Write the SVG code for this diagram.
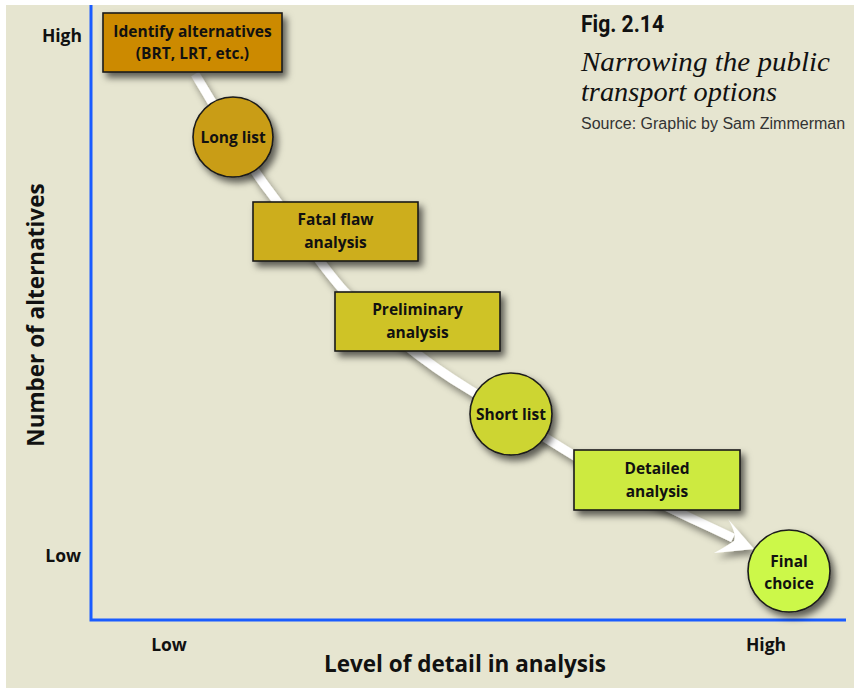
<svg xmlns="http://www.w3.org/2000/svg" width="854" height="688" viewBox="0 0 854 688">
<defs>
<filter id="sh" x="-30%" y="-30%" width="160%" height="160%">
<feDropShadow dx="4" dy="5" stdDeviation="3.5" flood-color="#000" flood-opacity="0.6"/>
</filter>
<filter id="lsh" x="-20%" y="-20%" width="140%" height="140%">
<feDropShadow dx="3" dy="5" stdDeviation="3.5" flood-color="#000" flood-opacity="0.45"/>
</filter>
</defs>
<style>
.node{stroke:#1a1a1a;stroke-width:1.6;filter:url(#sh)}
.lbl{font-family:"Open Sans",Lato,sans-serif;font-weight:700;font-size:15.5px;fill:#111;text-anchor:middle}
.ax{font-family:"Open Sans",Lato,sans-serif;font-weight:700;fill:#111}
.axis{stroke:#1a5cff;stroke-width:3;fill:none}
.ttl{font-family:"Liberation Serif",serif;font-style:italic;font-size:27px;fill:#111}
</style>
<rect x="0" y="0" width="854" height="688" fill="#ffffff"/>
<rect x="6" y="5" width="848" height="683" fill="#e6e5d0"/>

<g id="axes">
<path class="axis" d="M91,5 V620 H846"/>
</g>

<g id="connectors" filter="url(#lsh)">
<path d="M195,74 C220,115 245,160 270,192 C300,232 320,265 345,292 C380,325 420,360 470,390 C520,420 560,450 620,482 C660,505 700,522 733,538" fill="none" stroke="#ffffff" stroke-width="9"/>
<path d="M754,549 L728,519 Q737,534 734,541 Q727,546 714,553 Z" fill="#ffffff"/>
</g>

<g id="n1">
<rect class="node" x="103" y="13" width="179" height="59" fill="#cc8a00"/>
<text class="lbl" x="192.5" y="37">Identify alternatives</text>
<text class="lbl" x="192.5" y="59">(BRT, LRT, etc.)</text>
</g>
<g id="n2">
<circle class="node" cx="233" cy="137" r="40" fill="#c99d12"/>
<text class="lbl" x="233" y="143">Long list</text>
</g>
<g id="n3">
<rect class="node" x="253" y="202" width="165" height="59" fill="#cdae1a"/>
<text class="lbl" x="335.5" y="225">Fatal flaw</text>
<text class="lbl" x="335.5" y="248">analysis</text>
</g>
<g id="n4">
<rect class="node" x="335" y="292" width="165" height="59" fill="#cfc328"/>
<text class="lbl" x="417.5" y="315">Preliminary</text>
<text class="lbl" x="417.5" y="338">analysis</text>
</g>
<g id="n5">
<circle class="node" cx="511" cy="414" r="41" fill="#cdd530"/>
<text class="lbl" x="511" y="420">Short list</text>
</g>
<g id="n6">
<rect class="node" x="574" y="450" width="166" height="60" fill="#cdea40"/>
<text class="lbl" x="657" y="474">Detailed</text>
<text class="lbl" x="657" y="497">analysis</text>
</g>
<g id="n7">
<circle class="node" cx="789" cy="571" r="41" fill="#ccf84a"/>
<text class="lbl" x="789" y="567">Final</text>
<text class="lbl" x="789" y="589">choice</text>
</g>

<g id="labels">
<text class="ax" x="82" y="42" font-size="17.5" text-anchor="end">High</text>
<text class="ax" x="81" y="562" font-size="17.5" text-anchor="end">Low</text>
<text class="ax" x="169" y="651" font-size="17.5" text-anchor="middle">Low</text>
<text class="ax" x="766" y="651" font-size="17.5" text-anchor="middle">High</text>
<text class="ax" x="465" y="672" font-size="22.5" text-anchor="middle">Level of detail in analysis</text>
<text class="ax" transform="translate(44,315) rotate(-90)" font-size="22.5" text-anchor="middle">Number of alternatives</text>
</g>

<g id="title">
<text x="581" y="32" font-family="Roboto,'Liberation Sans',sans-serif" font-weight="700" font-size="24" fill="#111" textLength="83" lengthAdjust="spacingAndGlyphs">Fig. 2.14</text>
<text class="ttl" x="581" y="71" textLength="249" lengthAdjust="spacingAndGlyphs">Narrowing the public</text>
<text class="ttl" x="581" y="101" textLength="196" lengthAdjust="spacingAndGlyphs">transport options</text>
<text x="581" y="129" font-family="'Liberation Sans',Arial,sans-serif" font-size="16" fill="#333">Source: Graphic by Sam Zimmerman</text>
</g>
</svg>
